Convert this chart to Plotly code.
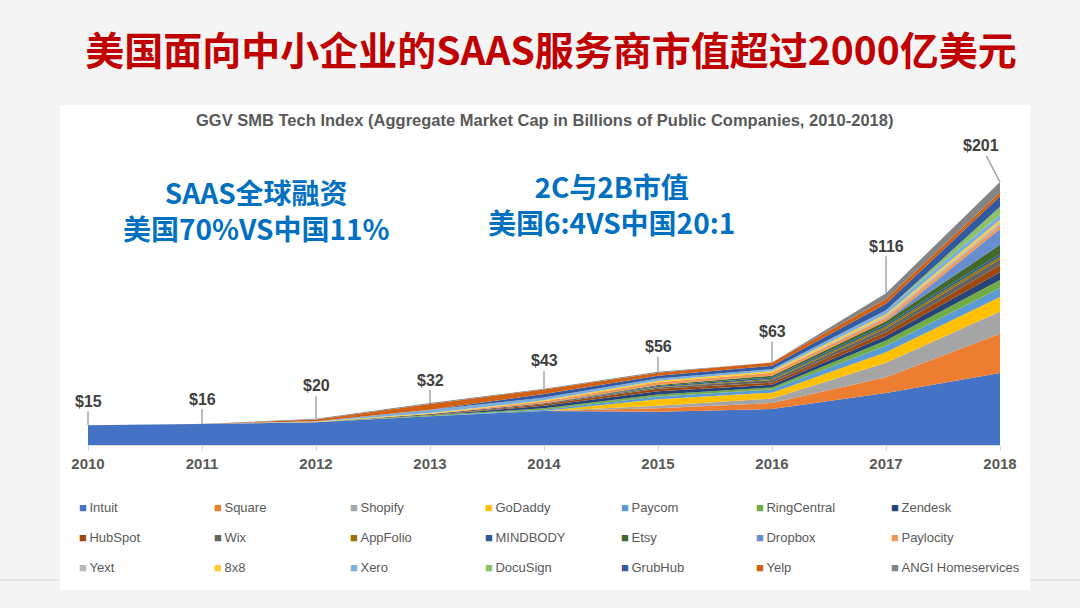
import plotly.graph_objects as go

years = [2010, 2011, 2012, 2013, 2014, 2015, 2016, 2017, 2018]
totals = [15, 16, 20, 32, 43, 56, 63, 116, 201]
total_labels = ["$15", "$16", "$20", "$32", "$43", "$56", "$63", "$116", "$201"]

companies = ["Intuit", "Square", "Shopify", "GoDaddy", "Paycom", "RingCentral", "Zendesk",
             "HubSpot", "Wix", "AppFolio", "MINDBODY", "Etsy", "Dropbox", "Paylocity",
             "Yext", "8x8", "Xero", "DocuSign", "GrubHub", "Yelp", "ANGI Homeservices"]

intuit = [15, 16, 17.3, 22, 26, 25.5, 27.5, 39.8, 55]
square = [0, 0, 0, 0, 0, 2.5, 4.5, 12, 30]
shopify = [0, 0, 0, 0, 0, 2, 3.5, 11, 17]
godaddy = [0, 0, 0, 0, 0, 5, 4.5, 8, 11]
paycom = [0, 0, 0, 0, 1, 2, 2.5, 5, 7]
ringcentral = [0, 0, 0, 0.8, 1, 1.5, 1.5, 4, 6]
zendesk = [0, 0, 0, 0, 2, 2.5, 2, 3.5, 6]
hubspot = [0, 0, 0, 0, 1.1, 1.9, 1.7, 3, 5.5]
wix = [0, 0, 0, 0.9, 0.8, 1, 2, 2.7, 4.5]
appfolio = [0, 0, 0, 0, 0, 0.5, 0.7, 1.5, 2]
mindbody = [0, 0, 0, 0, 0, 0.6, 1.2, 1.5, 2]
etsy = [0, 0, 0, 0, 0, 0.9, 1.4, 2.5, 7]
dropbox = [0, 0, 0, 0, 0, 0, 0, 0, 12]
paylocity = [0, 0, 0, 0, 1.5, 2, 2.2, 2.5, 3]
yext = [0, 0, 0, 0, 0, 0, 0, 1.5, 2]
eightxeight = [0, 0, 0.4, 0.7, 0.7, 1.2, 1.3, 1.5, 2]
xero = [0, 0, 0.5, 2.5, 2.2, 1.8, 1.5, 3, 4]
docusign = [0, 0, 0, 0, 0, 0, 0, 0, 6]
grubhub = [0, 0, 0, 0, 2.6, 2.1, 2.5, 5, 8]
yelp = [0, 0, 1.2, 4.5, 3.5, 2.2, 2.5, 3.5, 3]
angi = [0, 0, 0.7, 0.7, 0.6, 0.8, 0, 4.5, 8]

series = [intuit, square, shopify, godaddy, paycom, ringcentral, zendesk, hubspot, wix,
          appfolio, mindbody, etsy, dropbox, paylocity, yext, eightxeight, xero, docusign,
          grubhub, yelp, angi]

colors = ["#4472C4", "#ED7D31", "#A5A5A5", "#FFC000", "#5B9BD5", "#70AD47", "#264478",
          "#9E480E", "#636363", "#997300", "#255E91", "#43682B", "#698ED0", "#F1975A",
          "#B7B7B7", "#FFCD33", "#7CAFDD", "#8CC168", "#335AA1", "#D26012", "#848484"]

title_text = "美国面向中小企业的SAAS服务商市值超过2000亿美元"
subtitle_text = "GGV SMB Tech Index (Aggregate Market Cap in Billions of Public Companies, 2010-2018)"
note1 = "SAAS全球融资<br>美国70%VS中国11%"
note2 = "2C与2B市值<br>美国6:4VS中国20:1"

# layout geometry (pixels)
W, H = 1080, 608
ML, MR, MT, MB = 88, 80, 144, 163
PW = W - ML - MR
PH = H - MT - MB


def px(x):
    return (x - ML) / PW


def py(y):
    return (H - MB - y) / PH


fig = go.Figure()
for name, vals, col in zip(companies, series, colors):
    fig.add_trace(go.Scatter(
        x=years, y=vals, name=name, mode="lines", stackgroup="one",
        line=dict(width=0, color=col), fillcolor=col, showlegend=False,
    ))

annotations = []
# total labels with leader lines
offsets = [(0, -24), (0, -25), (0, -33), (0, -23), (0, -28), (0, -25), (0, -31), (0, -47), (-19, -36)]
for yr, tot, lab, (ax, ay) in zip(years, totals, total_labels, offsets):
    annotations.append(dict(
        x=yr, y=tot, xref="x", yref="y", text=lab, showarrow=True, arrowhead=0,
        arrowwidth=1.5, arrowcolor="#A6A6A6", ax=ax, ay=ay, standoff=0,
        font=dict(family="Liberation Sans", size=16, color="#404040", weight="bold"),
    ))

annotations.append(dict(
    x=px(544), y=py(120), xref="paper", yref="paper", text=subtitle_text, showarrow=False,
    xanchor="center", yanchor="middle",
    font=dict(family="Liberation Sans", size=16.5, color="#595959", weight="bold"),
))
annotations.append(dict(
    x=px(256), y=py(210), xref="paper", yref="paper", text=note1, showarrow=False,
    xanchor="center", yanchor="middle",
    font=dict(family="Noto Sans CJK SC", size=28, color="#0070C0", weight="bold"),
))
annotations.append(dict(
    x=px(611), y=py(204), xref="paper", yref="paper", text=note2, showarrow=False,
    xanchor="center", yanchor="middle",
    font=dict(family="Noto Sans CJK SC", size=28, color="#0070C0", weight="bold"),
))

# legend (3 rows x 7 columns)
for i, (name, col) in enumerate(zip(companies, colors)):
    r, c = divmod(i, 7)
    annotations.append(dict(
        x=px(77 + c * 135.4), y=py(507 + r * 30), xref="paper", yref="paper",
        text=f"<span style='color:{col};font-size:13px'>■</span>\u2009{name}",
        showarrow=False, xanchor="left", yanchor="middle",
        font=dict(family="Liberation Sans", size=13, color="#595959"),
    ))

shapes = [
    dict(type="line", xref="paper", yref="paper", x0=px(0), x1=px(W), y0=py(580), y1=py(580),
         line=dict(color="#D9D9D9", width=1), layer="below"),
    dict(type="rect", xref="paper", yref="paper", x0=px(60), x1=px(1030), y0=py(590), y1=py(105),
         fillcolor="white", line=dict(width=0), layer="below"),
]

fig.update_layout(
    width=W, height=H,
    margin=dict(l=ML, r=MR, t=MT, b=MB),
    paper_bgcolor="#F4F4F4", plot_bgcolor="rgba(0,0,0,0)",
    title=dict(text=title_text, x=551 / W, y=1 - 51 / H, xanchor="center", yanchor="middle",
               font=dict(family="Noto Sans CJK SC", size=39, color="#C00000", weight="bold")),
    xaxis=dict(range=[2010, 2018], tickvals=years, ticktext=[str(y) for y in years],
               showgrid=False, zeroline=False, showline=True, linecolor="#D9D9D9", linewidth=1,
               ticks="outside", ticklen=5, tickcolor="#D9D9D9",
               tickfont=dict(family="Liberation Sans", size=15, color="#595959", weight="bold")),
    yaxis=dict(range=[0, 230], visible=False, showgrid=False),
    annotations=annotations, shapes=shapes, showlegend=False,
)

fig.write_html("out.html", config={"displayModeBar": False},
               post_script="document.body.style.margin='0';")
